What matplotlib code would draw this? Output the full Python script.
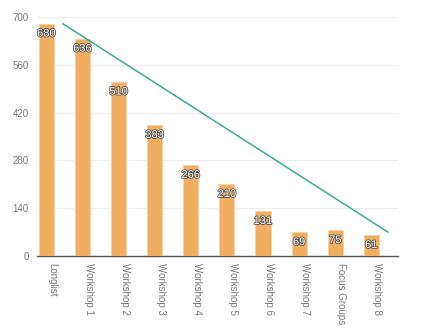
import numpy as np
import matplotlib
matplotlib.use("Agg")
import matplotlib.pyplot as plt
import matplotlib.patheffects as pe

plt.rcParams['font.family'] = ['Liberation Sans', 'DejaVu Sans']

categories = ["Longlist", "Workshop 1", "Workshop 2", "Workshop 3", "Workshop 4",
              "Workshop 5", "Workshop 6", "Workshop 7", "Focus Groups", "Workshop 8"]
counts = [680, 636, 510, 383, 266, 210, 131, 69, 75, 61]
# straight trend line, start and end
line_x = [0, 9]
line_y = [680, 70]
yticks = [0, 140, 280, 420, 560, 700]

bar_color = "#f0ae60"
line_color = "#3aab96"

fig = plt.figure(figsize=(4.26, 3.28), dpi=100)
ax = fig.add_axes([0.0869, 0.2195, 0.8474, 0.7287])

x = np.arange(len(categories))
ax.bar(x - 0.24, counts, width=0.42, color=bar_color, edgecolor="#f7d0a0",
       linewidth=0.6, zorder=3)
ax.plot(np.array(line_x) + 0.22, line_y, color=line_color, linewidth=1.1, zorder=4)

for xi, v in zip(x, counts):
    ax.annotate(str(v), (xi - 0.24, v), xytext=(0, -7), textcoords="offset points",
                ha="center", va="center", fontsize=8, color="white", zorder=5,
                path_effects=[pe.withStroke(linewidth=1.2, foreground="#555555")])

ax.set_xlim(-0.5, len(categories) - 0.5)
ax.set_ylim(0, 700)
ax.set_yticks(yticks)
ax.set_yticklabels([str(t) for t in yticks])
ax.set_xticks(x - 0.07)
ax.set_xticklabels(categories, rotation=270, ha="center", va="top")

ax.grid(axis="y", color="#eeeeee", linewidth=0.8, zorder=0)
for s in ["top", "right", "left"]:
    ax.spines[s].set_visible(False)
ax.spines["bottom"].set_color("#555555")
ax.spines["bottom"].set_linewidth(1.0)
ax.tick_params(axis="both", length=0, labelsize=7, colors="#777777")
ax.tick_params(axis="y", pad=6)
ax.tick_params(axis="x", pad=5)

fig.savefig("out.png", dpi=100)
